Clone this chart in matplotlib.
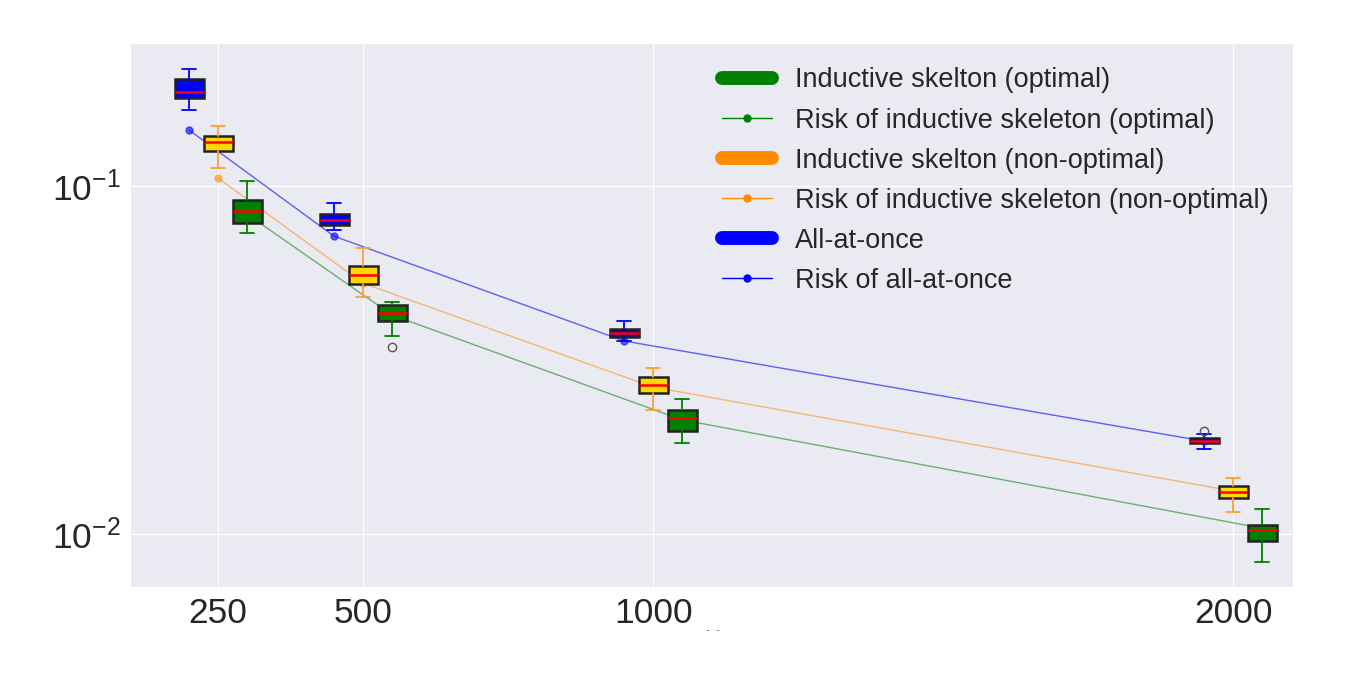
import matplotlib
matplotlib.use("Agg")
import matplotlib.pyplot as plt
from matplotlib.lines import Line2D
import seaborn as sns

# sample sizes and box offsets
sizes = [250, 500, 1000, 2000]
offset = 50

# box statistics: whisker low, q1, median, q3, whisker high
opt_lo = [0.0733, 0.0371, 0.0183, 0.0083]
opt_q1 = [0.0783, 0.0409, 0.0198, 0.00955]
opt_med = [0.0848, 0.0432, 0.0215, 0.0103]
opt_q3 = [0.0912, 0.0455, 0.0227, 0.0106]
opt_hi = [0.1034, 0.0464, 0.0244, 0.0118]
opt_fliers = [[], [0.0345], [], []]
opt_risk = [0.0831, 0.0426, 0.0213, 0.0104]

non_lo = [0.1126, 0.0480, 0.0227, 0.01157]
non_q1 = [0.1260, 0.0523, 0.0254, 0.01269]
non_med = [0.1338, 0.0555, 0.0268, 0.01320]
non_q3 = [0.1392, 0.0589, 0.0283, 0.01374]
non_hi = [0.1487, 0.0664, 0.0300, 0.01449]
non_fliers = [[], [], [], []]
non_risk = [0.1054, 0.0526, 0.02645, 0.0133]

all_lo = [0.1653, 0.0747, 0.0359, 0.01755]
all_q1 = [0.1790, 0.0772, 0.0368, 0.01826]
all_med = [0.1862, 0.0798, 0.0378, 0.01850]
all_q3 = [0.2030, 0.0831, 0.0388, 0.01887]
all_hi = [0.2167, 0.0894, 0.0410, 0.01938]
all_fliers = [[], [], [], [0.01977]]
all_risk = [0.1449, 0.0718, 0.0359, 0.0185]

sns.set_style("darkgrid")
plt.rcParams['font.family'] = ['Liberation Sans', 'DejaVu Sans']
plt.rcParams['mathtext.default'] = 'regular'


def stats(lo, q1, med, q3, hi, fliers):
    return [dict(whislo=a, q1=b, med=c, q3=d, whishi=e, fliers=f)
            for a, b, c, d, e, f in zip(lo, q1, med, q3, hi, fliers)]


def draw(ax, st, pos, face, wcol):
    ax.bxp(st, positions=pos, widths=50, patch_artist=True, manage_ticks=False,
           boxprops=dict(facecolor=face, edgecolor="#222222", linewidth=1.8),
           medianprops=dict(color="red", linewidth=1.8),
           whiskerprops=dict(color=wcol, linewidth=1.3),
           capprops=dict(color=wcol, linewidth=1.3),
           flierprops=dict(marker="o", markerfacecolor="none",
                           markeredgecolor="#555555", markersize=6),
           zorder=5)


fig = plt.figure(figsize=(13.55, 6.73), dpi=100)
ax = fig.add_axes([0.0959, 0.1278, 0.8583, 0.8082])

pos_all = [s - offset for s in sizes]
pos_opt = [s + offset for s in sizes]

# risk curves
ax.plot(pos_all, all_risk, "-o", color="blue", lw=1, ms=5, alpha=0.6, zorder=3)
ax.plot(sizes, non_risk, "-o", color="darkorange", lw=1, ms=5, alpha=0.55, zorder=3)
ax.plot(pos_opt, opt_risk, "-o", color="green", lw=1, ms=5, alpha=0.55, zorder=3)

draw(ax, stats(all_lo, all_q1, all_med, all_q3, all_hi, all_fliers), pos_all, "blue", "blue")
draw(ax, stats(non_lo, non_q1, non_med, non_q3, non_hi, non_fliers), sizes, "gold", "#FFA030")
draw(ax, stats(opt_lo, opt_q1, opt_med, opt_q3, opt_hi, opt_fliers), pos_opt, "green", "green")

ax.set_yscale("log")
ax.set_xlim(98, 2103)
ax.set_ylim(0.00705, 0.2577)
ax.set_xticks(sizes)
ax.set_xticklabels([str(s) for s in sizes])
ax.set_yticks([0.01, 0.1])
ax.minorticks_off()
ax.tick_params(labelsize=25.5, colors="#262626")

handles = [
    Line2D([], [], color="green", lw=10, solid_capstyle="round"),
    Line2D([], [], color="green", lw=1, marker="o", ms=5),
    Line2D([], [], color="darkorange", lw=10, solid_capstyle="round"),
    Line2D([], [], color="darkorange", lw=1, marker="o", ms=5),
    Line2D([], [], color="blue", lw=10, solid_capstyle="round"),
    Line2D([], [], color="blue", lw=1, marker="o", ms=5),
]
labels = [
    "Inductive skelton (optimal)",
    "Risk of inductive skeleton (optimal)",
    "Inductive skelton (non-optimal)",
    "Risk of inductive skeleton (non-optimal)",
    "All-at-once",
    "Risk of all-at-once",
]
ax.legend(handles, labels, loc="upper right", frameon=False, fontsize=19.5,
          handlelength=1.85, handletextpad=0.85, labelspacing=0.52,
          borderaxespad=0.5)

fig.text(0.526, 0.06, "-  -", fontsize=8, color="#777777", ha="center")

fig.savefig("out.png")
